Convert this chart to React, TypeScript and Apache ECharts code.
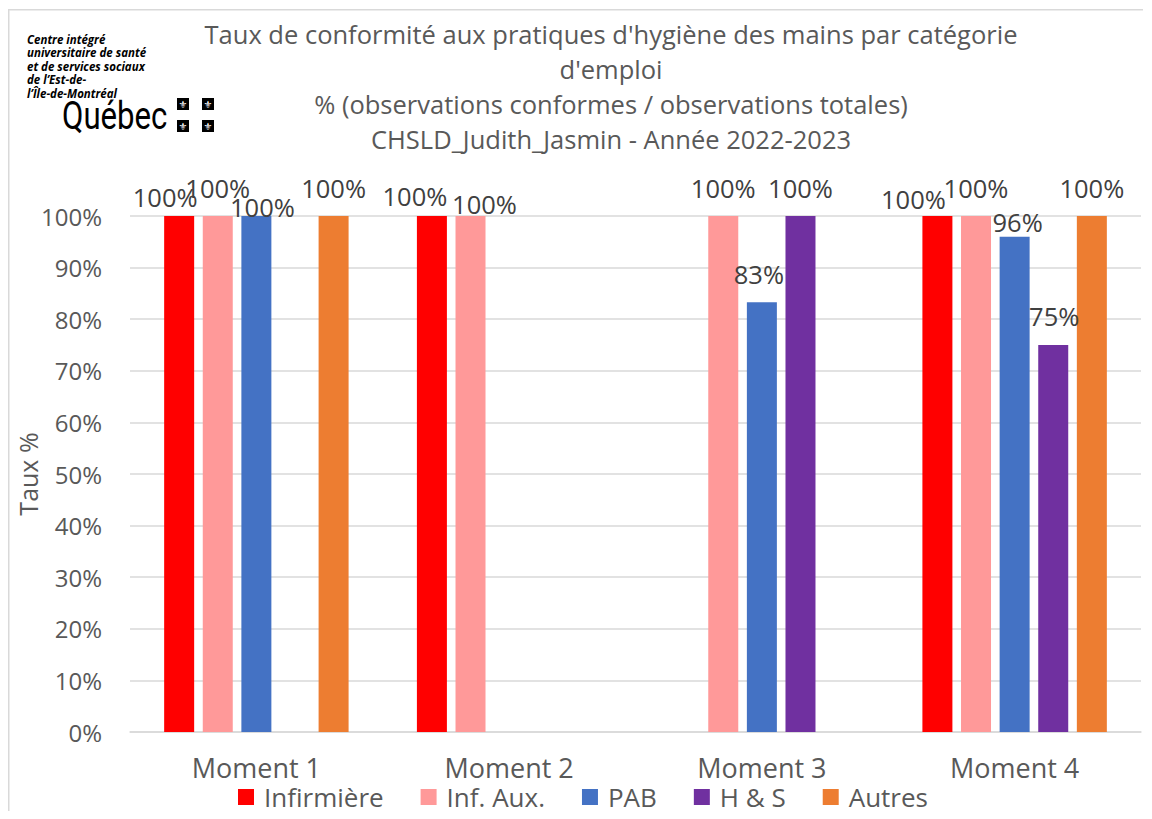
import React, { useEffect, useRef } from "react";
import * as echarts from "echarts";

const categories = ["Moment 1", "Moment 2", "Moment 3", "Moment 4"];
const seriesNames = ["Infirmière", "Inf. Aux.", "PAB", "H & S", "Autres"];
const infirmiere = [100, 100, null, 100];
const infAux = [100, 100, 100, 100];
const pab = [100, null, 83.3, 96];
const hs = [null, null, 100, 75];
const autres = [100, null, null, 100];
const seriesValues = [infirmiere, infAux, pab, hs, autres];
const seriesColors = ["#FF0000", "#FF9999", "#4472C4", "#7030A0", "#ED7D31"];
const titleLines = [
  "Taux de conformité aux pratiques d'hygiène des mains par catégorie",
  "d'emploi",
  "% (observations conformes / observations totales)",
  "CHSLD_Judith_Jasmin - Année 2022-2023",
];
const logoLines = [
  "Centre intégré",
  "universitaire de santé",
  "et de services sociaux",
  "de l’Est-de-",
  "l’Île-de-Montréal",
];

// label nudges [dx, dy] per series / category (layout only, mimics Excel's overlap avoidance)
const labelNudges: number[][][] = [
  [[-14, 9], [-17, 8], [0, 0], [-24, 11]],
  [[0, 0], [14, 16], [0, 0], [0, 0]],
  [[6, 19], [0, 0], [-3, 0], [3, 13]],
  [[0, 0], [0, 0], [0, 0], [1, -1]],
  [[0, 0], [0, 0], [0, 0], [0, 0]],
];

export default function App() {
  const ref = useRef<HTMLDivElement>(null);
  useEffect(() => {
    if (!ref.current) return;
    const chart = echarts.init(ref.current, undefined, { renderer: "svg" });
    const font = "Open Sans";
    const series = seriesNames.map((name, si) => ({
      name,
      type: "bar",
      barWidth: 30,
      barGap: "28.7%",
      itemStyle: { color: seriesColors[si] },
      label: {
        show: true,
        position: "top",
        distance: 15,
        fontFamily: font,
        fontSize: 25.5,
        color: "#404040",
        formatter: (p: any) => Math.round(p.value) + "%",
      },
      data: seriesValues[si].map((v, ci) =>
        v === null
          ? null
          : { value: v, label: { offset: labelNudges[si][ci] } }
      ),
    }));

    const flX = [169, 194];
    const flY = [90, 112];
    const fleurs: any[] = [];
    flX.forEach((x) =>
      flY.forEach((y) => {
        fleurs.push({
          type: "rect",
          shape: { x, y, width: 12, height: 12 },
          style: { fill: "#000" },
        });
        fleurs.push({
          type: "text",
          x: x + 6,
          y: y + 6.5,
          style: {
            text: "⚜",
            fill: "#fff",
            fontSize: 10,
            fontFamily: "DejaVu Sans",
            align: "center",
            verticalAlign: "middle",
          },
        });
      })
    );

    chart.setOption({
      animation: false,
      title: {
        text: titleLines.join("\n"),
        left: 598,
        top: 3,
        textAlign: "center",
        textStyle: {
          fontFamily: font,
          fontSize: 25.5,
          fontWeight: "normal",
          color: "#595959",
          lineHeight: 35,
        },
      },
      legend: {
        data: seriesNames,
        left: 230,
        top: 776,
        padding: 0,
        icon: "rect",
        itemWidth: 16,
        itemHeight: 16,
        itemGap: 37,
        textStyle: {
          fontFamily: font,
          fontSize: 26,
          color: "#595959",
          padding: [0, 0, 0, 5],
        },
      },
      grid: {
        left: 122,
        top: 208,
        width: 1011,
        height: 516,
        containLabel: false,
        outerBoundsMode: "none",
      },
      xAxis: {
        type: "category",
        data: categories,
        axisTick: { show: false },
        axisLine: { lineStyle: { color: "#D9D9D9", width: 1.5 } },
        axisLabel: {
          fontFamily: font,
          fontSize: 27,
          color: "#595959",
          margin: 22,
        },
      },
      yAxis: {
        type: "value",
        min: 0,
        max: 100,
        interval: 10,
        name: "Taux %",
        nameLocation: "middle",
        nameGap: 90,
        nameMoveOverlap: false,
        nameTextStyle: { fontFamily: font, fontSize: 25, color: "#595959" },
        axisLine: { show: false },
        axisTick: { show: false },
        splitLine: { lineStyle: { color: "#D9D9D9", width: 1.5 } },
        axisLabel: {
          fontFamily: font,
          fontSize: 24,
          color: "#595959",
          margin: 28,
          formatter: "{value}%",
        },
      },
      graphic: [
        {
          type: "line",
          silent: true,
          shape: { x1: 0.75, y1: 1.75, x2: 0.75, y2: 900 },
          style: { stroke: "#D9D9D9", lineWidth: 1.5 },
        },
        {
          type: "line",
          silent: true,
          shape: { x1: 0, y1: 1.75, x2: 1135, y2: 1.75 },
          style: { stroke: "#D9D9D9", lineWidth: 1.5 },
        },
        ...logoLines.map((t, i) => ({
          type: "text",
          x: 19,
          y: 31 + i * 13.5,
          style: {
            text: t,
            fill: "#000",
            fontSize: 11.5,
            fontWeight: "bold",
            fontStyle: "italic",
            fontFamily: font,
            verticalAlign: "middle",
          },
        })),
        {
          type: "text",
          x: 54,
          y: 108,
          scaleX: 0.82,
          style: {
            text: "Québec",
            fill: "#000",
            fontSize: 38,
            fontFamily: "Roboto",
            verticalAlign: "middle",
          },
        },
        ...fleurs,
      ],
      series,
    });
    return () => chart.dispose();
  }, []);
  return <div ref={ref} style={{ width: 1136, height: 811, marginBottom: -8 }} />;
}
